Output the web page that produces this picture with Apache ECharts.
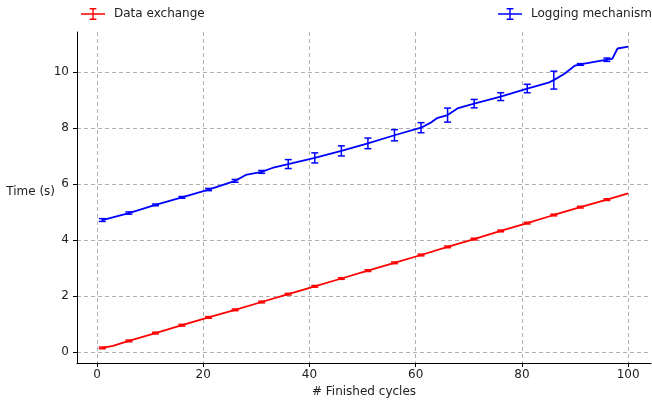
<!DOCTYPE html>
<html>
<head>
<meta charset="utf-8">
<script src="https://cdn.jsdelivr.net/npm/echarts@6/dist/echarts.min.js"></script>
<style>
  html, body { margin: 0; padding: 0; background: #fff; }
  #main { width: 652px; height: 403px; }
</style>
</head>
<body>
<div id="main"></div>
<script>
// red: data exchange, blue: logging mechanism
var exchX = [1, 3, 6, 11, 16, 21, 26, 31, 36, 41, 46, 51, 56, 61, 66, 71, 76, 81, 86, 91, 96, 100];
var exchY = [0.15, 0.22, 0.40, 0.68, 0.96, 1.24, 1.51, 1.79, 2.07, 2.35, 2.63, 2.91, 3.19, 3.47, 3.76, 4.04, 4.33, 4.61, 4.90, 5.18, 5.45, 5.67];
var exchErrX = [1, 6, 11, 16, 21, 26, 31, 36, 41, 46, 51, 56, 61, 66, 71, 76, 81, 86, 91, 96];
var exchErrY = [0.15, 0.40, 0.68, 0.96, 1.24, 1.51, 1.79, 2.07, 2.35, 2.63, 2.91, 3.19, 3.47, 3.76, 4.04, 4.33, 4.61, 4.90, 5.18, 5.45];
var exchErr = [0.03, 0.03, 0.03, 0.03, 0.03, 0.03, 0.03, 0.03, 0.03, 0.03, 0.03, 0.03, 0.03, 0.03, 0.03, 0.03, 0.03, 0.03, 0.03, 0.03];

var logX = [1, 6, 11, 16, 21, 26, 28, 31, 33, 36, 41, 46, 51, 56, 61, 63, 64, 66, 68, 71, 76, 81, 85, 86, 88, 90, 91, 96, 97, 98, 100];
var logY = [4.72, 4.97, 5.26, 5.53, 5.81, 6.12, 6.33, 6.44, 6.58, 6.72, 6.94, 7.19, 7.46, 7.75, 8.02, 8.22, 8.36, 8.47, 8.72, 8.88, 9.13, 9.42, 9.63, 9.72, 9.95, 10.24, 10.28, 10.45, 10.48, 10.85, 10.92];
var logErrX = [1, 6, 11, 16, 21, 26, 31, 36, 41, 46, 51, 56, 61, 66, 71, 76, 81, 86, 91, 96];
var logErrY = [4.72, 4.97, 5.26, 5.53, 5.81, 6.12, 6.44, 6.72, 6.94, 7.19, 7.46, 7.75, 8.02, 8.47, 8.88, 9.13, 9.42, 9.72, 10.28, 10.45];
var logErr = [0.05, 0.04, 0.03, 0.03, 0.04, 0.05, 0.05, 0.16, 0.18, 0.18, 0.19, 0.20, 0.18, 0.25, 0.15, 0.14, 0.15, 0.32, 0.03, 0.06];

var xTicks = [0, 20, 40, 60, 80, 100];
var yTicks = [0, 2, 4, 6, 8, 10];

var font = 'DejaVu Sans';
// errorbar glyph: horizontal line + I-beam, box 24x12
var legendIcon = 'path://M0,5.2h24v1.6h-24z M11.3,0h1.4v12h-1.4z M8.6,0h6.8v1.4h-6.8z M8.6,10.6h6.8v1.4h-6.8z';

function pairs(xs, ys) {
  var out = [];
  for (var i = 0; i < xs.length; i++) out.push([xs[i], ys[i]]);
  return out;
}
function errData(xs, ys, es) {
  var out = [];
  for (var i = 0; i < xs.length; i++) out.push([xs[i], ys[i] - es[i], ys[i] + es[i]]);
  return out;
}
function errBar(color) {
  return function (params, api) {
    var lo = api.coord([api.value(0), api.value(1)]);
    var hi = api.coord([api.value(0), api.value(2)]);
    var cap = 3.5;
    var st = { stroke: color, lineWidth: 1.5 };
    return {
      type: 'group',
      children: [
        { type: 'line', shape: { x1: lo[0], y1: lo[1], x2: hi[0], y2: hi[1] }, style: st },
        { type: 'line', shape: { x1: lo[0] - cap, y1: lo[1], x2: lo[0] + cap, y2: lo[1] }, style: st },
        { type: 'line', shape: { x1: hi[0] - cap, y1: hi[1], x2: hi[0] + cap, y2: hi[1] }, style: st }
      ]
    };
  };
}

var dom = document.getElementById('main');
var myChart = echarts.init(dom, null, { renderer: 'canvas' });
var option = {
  animation: false,
  textStyle: { fontFamily: font },
  legend: [
    {
      left: 81, top: 8, padding: 0,
      itemWidth: 24, itemHeight: 12,
      symbolKeepAspect: false,
      icon: legendIcon,
      textStyle: { fontFamily: font, fontSize: 12, color: '#222', padding: [0, 0, 0, 4] },
      data: [{ name: 'Data exchange', itemStyle: { color: '#ff0000' } }]
    },
    {
      left: 498, top: 8, padding: 0,
      itemWidth: 24, itemHeight: 12,
      symbolKeepAspect: false,
      icon: legendIcon,
      textStyle: { fontFamily: font, fontSize: 12, color: '#222', padding: [0, 0, 0, 4] },
      data: [{ name: 'Logging mechanism', itemStyle: { color: '#0000ff' } }]
    }
  ],
  grid: { left: 77, right: 1, top: 32, bottom: 40, containLabel: false, outerBoundsMode: 'none' },
  xAxis: {
    type: 'value',
    min: -3.77, max: 104.3,
    name: '# Finished cycles',
    nameLocation: 'middle',
    nameGap: 23,
    nameTextStyle: { fontFamily: font, fontSize: 12, color: '#222' },
    axisLine: { show: true, onZero: false, lineStyle: { color: '#000', width: 1 } },
    axisTick: { show: true, length: 4, customValues: xTicks, lineStyle: { color: '#000' } },
    axisLabel: { margin: 6, customValues: xTicks, fontFamily: font, fontSize: 12, color: '#222' },
    splitLine: { show: true, lineStyle: { color: '#b0b0b0', type: [4, 3], width: 1 } }
  },
  yAxis: {
    type: 'value',
    min: -0.39, max: 11.44,
    name: 'Time (s)',
    nameLocation: 'middle',
    nameRotate: 0,
    nameGap: 22,
    nameMoveOverlap: false,
    nameTextStyle: { fontFamily: font, fontSize: 12, color: '#222', verticalAlign: 'bottom' },
    axisLine: { show: true, onZero: false, lineStyle: { color: '#000', width: 1 } },
    axisTick: { show: true, length: 4, customValues: yTicks, lineStyle: { color: '#000' } },
    axisLabel: { margin: 8, customValues: yTicks, fontFamily: font, fontSize: 12, color: '#222' },
    splitLine: { show: true, lineStyle: { color: '#b0b0b0', type: [4, 3], width: 1 } }
  },
  series: [
    {
      name: 'Data exchange',
      type: 'line',
      showSymbol: false,
      lineStyle: { color: '#ff0000', width: 1.8 },
      itemStyle: { color: '#ff0000' },
      data: pairs(exchX, exchY)
    },
    {
      name: 'Logging mechanism',
      type: 'line',
      showSymbol: false,
      lineStyle: { color: '#0000ff', width: 1.8 },
      itemStyle: { color: '#0000ff' },
      data: pairs(logX, logY)
    },
    {
      name: 'Data exchange',
      type: 'custom',
      renderItem: errBar('#ff0000'),
      encode: { x: 0, y: [1, 2] },
      data: errData(exchErrX, exchErrY, exchErr)
    },
    {
      name: 'Logging mechanism',
      type: 'custom',
      renderItem: errBar('#0000ff'),
      encode: { x: 0, y: [1, 2] },
      data: errData(logErrX, logErrY, logErr)
    }
  ]
};
if (option && typeof option === "object") {
  myChart.setOption(option, true);
}
</script>
</body>
</html>
